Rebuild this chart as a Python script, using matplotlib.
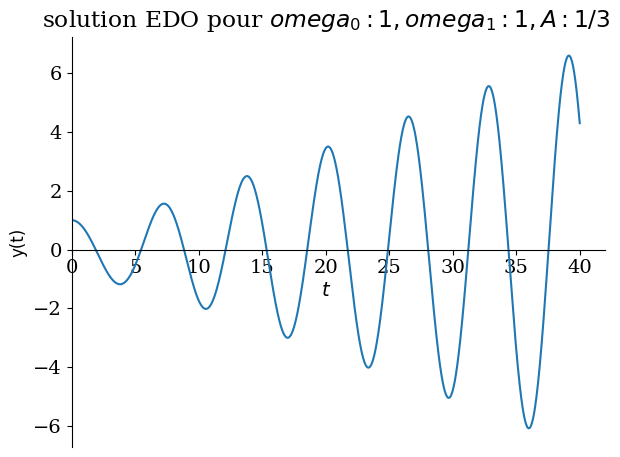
import numpy as np
import matplotlib.pyplot as plt

# parametres de l'EDO y'' + omega0^2 y = A cos(omega1 t), y(0)=1, y'(0)=0
omega0 = 1.0
omega1 = 1.0
A = 1 / 3
y0 = 1.0
t_max = 40

# resonance (omega0 == omega1): solution exacte
t = np.linspace(0, t_max, 1000)
y = y0 * np.cos(omega0 * t) + A * t * np.sin(omega0 * t) / (2 * omega0)

plt.rcParams["font.family"] = "serif"
plt.rcParams["font.serif"] = ["DejaVu Serif"]

fig = plt.figure(figsize=(6.2, 4.57), dpi=100)
ax = fig.add_axes([0.116, 0.022, 0.86, 0.897])
ax.plot(t, y, color="#1f77b4", linewidth=1.5)

ax.spines["left"].set_position("zero")
ax.spines["bottom"].set_position("zero")
ax.spines["right"].set_visible(False)
ax.spines["top"].set_visible(False)
ax.set_xlim(0, 42)

ax.tick_params(labelsize=14)
ax.set_xlabel("$t$", fontsize=14)
ax.xaxis.set_label_coords(0.477, 0.402)
ax.set_ylabel("y(t)", fontsize=12, family="DejaVu Sans")
ax.set_title("solution EDO pour $omega_0: 1, omega_1: 1, A: 1/3$",
             fontsize=16.8, x=0.477, pad=7)

fig.savefig("out.png")
